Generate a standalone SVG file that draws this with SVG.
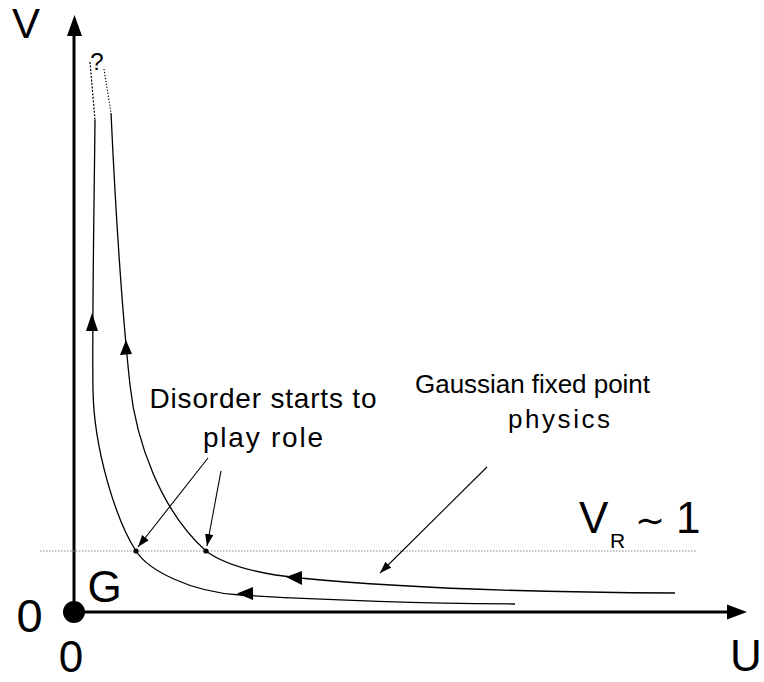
<svg xmlns="http://www.w3.org/2000/svg" width="764" height="682" viewBox="0 0 764 682">
<style>
text{font-family:"Liberation Sans","DejaVu Sans",Arial,sans-serif;fill:#000}
.big{font-size:44px}
.lbl{font-size:28px}
.curve{fill:none;stroke:#000;stroke-width:1.3}
.dot{fill:none;stroke:#000;stroke-width:1.2;stroke-dasharray:2,1.5}
.ann{fill:none;stroke:#000;stroke-width:1.1;marker-end:url(#ah)}
.head{fill:#000}
</style>
<defs>
<marker id="ah" viewBox="0 0 10 10" refX="10" refY="5" markerWidth="12" markerHeight="12" markerUnits="userSpaceOnUse" orient="auto">
<path d="M0,1.5 L10,5 L0,8.5 Z" fill="#000"/>
</marker>
</defs>
<g id="axes">
<line x1="74" y1="612" x2="74" y2="34" stroke="#000" stroke-width="3"/>
<polygon points="74.5,15 67,36 82,36" class="head"/>
<line x1="74" y1="612" x2="729" y2="612" stroke="#000" stroke-width="3"/>
<polygon points="747,612 727,604.5 727,619.5" class="head"/>
<circle cx="74" cy="612" r="11" fill="#000"/>
</g>
<g id="vr-line">
<line x1="40" y1="551" x2="697" y2="551" stroke="#888" stroke-width="1" stroke-dasharray="1.5,1.5"/>
</g>
<g id="connectors">
<path class="dot" d="M90,62 L95,120"/>
<path class="curve" d="M95,120 C94,220 92,320 93,390 C94,450 116,520 136,551 C148,570 190,592 240,595 C290,598 400,603 515,604"/>
<polygon class="head" points="92,313 86,331 98,331"/>
<polygon class="head" points="237,593.5 253,587 253,600"/>
<path class="dot" d="M104,69 L111,113" style="stroke-dasharray:1.2,1.8"/>
<path class="curve" d="M111,113 C116,220 123,320 130,385 C136,440 160,510 206,551 C226,566 260,574 300,578 C360,584 480,592 675,593"/>
<polygon class="head" points="126,340 120,355 132,354"/>
<polygon class="head" points="286,577 302,571 302,585"/>
<circle cx="136" cy="551" r="2.6" fill="#000"/>
<circle cx="206" cy="551" r="2.6" fill="#000"/>
<line class="ann" x1="208" y1="458" x2="138" y2="547"/>
<line class="ann" x1="221" y1="471" x2="207" y2="546"/>
<line class="ann" x1="487" y1="467" x2="380" y2="573"/>
</g>
<g id="labels">
<text class="big" x="12" y="38" style="font-size:42px">V</text>
<text class="big" x="746" y="671" text-anchor="middle">U</text>
<text class="big" x="29.5" y="632" text-anchor="middle" style="font-size:47px">0</text>
<text class="big" x="71" y="672" text-anchor="middle">0</text>
<text class="big" x="104.5" y="602" text-anchor="middle">G</text>
<text x="97" y="70" text-anchor="middle" style="font-size:24px">?</text>
<text class="lbl" x="263" y="408" text-anchor="middle" textLength="227">Disorder starts to</text>
<text class="lbl" x="263" y="447" text-anchor="middle" textLength="120">play role</text>
<text class="lbl" x="415" y="393" textLength="235" style="font-size:26px">Gaussian fixed point</text>
<text class="lbl" x="508" y="428" textLength="102" style="font-size:26px">physics</text>
<text class="big" x="579" y="533">V</text>
<text x="610" y="548" style="font-size:21px">R</text>
<text x="650" y="533" text-anchor="middle" style="font-size:36px;font-family:'DejaVu Sans',sans-serif">∼</text>
<text class="big" x="676" y="533">1</text>
</g>
</svg>
